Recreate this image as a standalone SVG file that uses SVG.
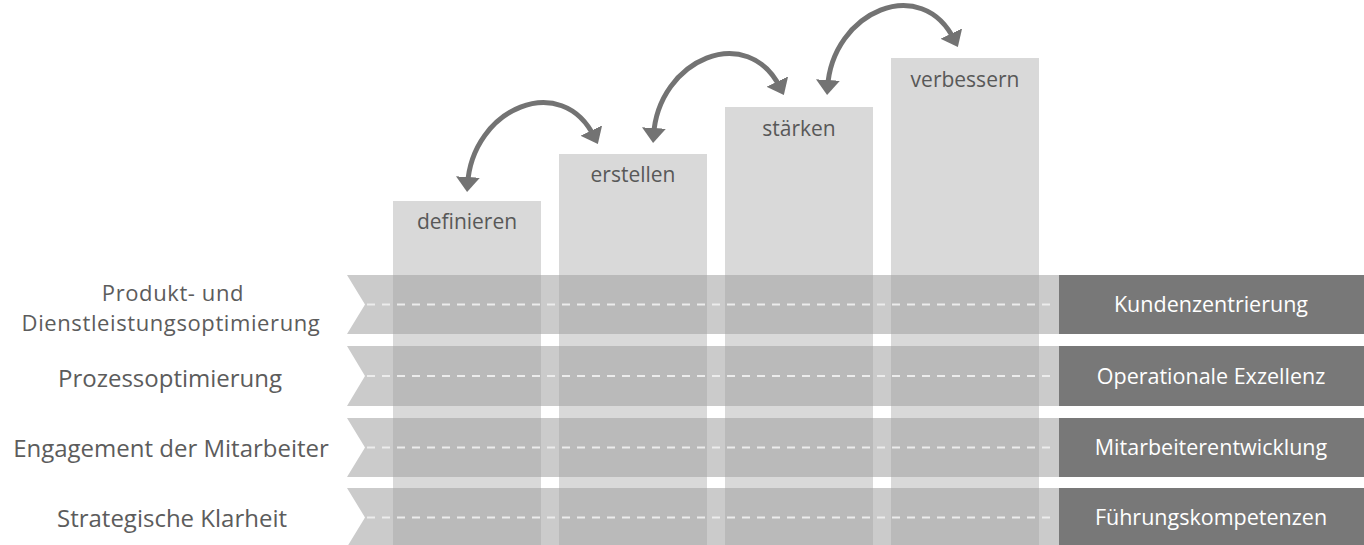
<svg xmlns="http://www.w3.org/2000/svg" width="1364" height="545" viewBox="0 0 1364 545">
<style>
.col{fill:#d9d9d9}
.colt{font-family:"Open Sans","Noto Sans",sans-serif;font-size:21px;fill:#585858;text-anchor:middle}
.band{fill:#a0a0a0;fill-opacity:0.55}
.dash{stroke:#ececec;stroke-width:2;stroke-dasharray:8 7;fill:none}
.lbl{font-family:"Open Sans","Noto Sans",sans-serif;font-size:24px;fill:#5c5c5c;text-anchor:middle}
.lbl2{font-family:"Open Sans","Noto Sans",sans-serif;font-size:22px;letter-spacing:0.6px;fill:#5c5c5c;text-anchor:middle}
.box{fill:#787878}
.boxt{font-family:"Open Sans","Noto Sans",sans-serif;font-size:21.5px;fill:#ffffff;text-anchor:middle}
.arr{fill:none;stroke:#737373;stroke-width:5}
</style>
<defs>
<marker id="ah" markerUnits="userSpaceOnUse" markerWidth="26" markerHeight="26" viewBox="0 0 26 26" refX="8" refY="12" orient="auto-start-reverse">
<path d="M0,0 L15,12 L0,24 z" fill="#737373"/>
</marker>
</defs>
<rect width="1364" height="545" fill="#ffffff"/>

<g id="step-definieren"><rect class="col" x="393" y="201" width="148" height="344"/><text class="colt" x="467" y="229">definieren</text></g>
<g id="step-erstellen"><rect class="col" x="559" y="154" width="148" height="391"/><text class="colt" x="633" y="182">erstellen</text></g>
<g id="step-staerken"><rect class="col" x="725" y="107" width="148" height="438"/><text class="colt" x="799" y="136">stärken</text></g>
<g id="step-verbessern"><rect class="col" x="891" y="58" width="148" height="487"/><text class="colt" x="965" y="87">verbessern</text></g>

<g id="row-kundenzentrierung">
<polygon class="band" points="347,275 1059,275 1059,334 347,334 365,304.5"/>
<line class="dash" x1="367" y1="304.5" x2="1055" y2="304.5"/>
<text class="lbl2" x="173" y="301">Produkt- und</text>
<text class="lbl2" x="171" y="331">Dienstleistungsoptimierung</text>
<rect class="box" x="1059" y="275" width="305" height="59"/>
<text class="boxt" x="1211" y="312">Kundenzentrierung</text>
</g>
<g id="row-operationale-exzellenz">
<polygon class="band" points="347,346 1059,346 1059,406 347,406 365,376"/>
<line class="dash" x1="367" y1="376" x2="1055" y2="376"/>
<text class="lbl" x="170" y="387">Prozessoptimierung</text>
<rect class="box" x="1059" y="346" width="305" height="60"/>
<text class="boxt" x="1211" y="384">Operationale Exzellenz</text>
</g>
<g id="row-mitarbeiterentwicklung">
<polygon class="band" points="347,418 1059,418 1059,477 347,477 365,447.5"/>
<line class="dash" x1="367" y1="447.5" x2="1055" y2="447.5"/>
<text class="lbl" x="171" y="457">Engagement der Mitarbeiter</text>
<rect class="box" x="1059" y="418" width="305" height="59"/>
<text class="boxt" x="1211" y="455">Mitarbeiterentwicklung</text>
</g>
<g id="row-fuehrungskompetenzen">
<polygon class="band" points="347,488 1059,488 1059,547 347,547 365,517.5"/>
<line class="dash" x1="367" y1="517.5" x2="1055" y2="517.5"/>
<text class="lbl" x="172" y="527">Strategische Klarheit</text>
<rect class="box" x="1059" y="488" width="305" height="59"/>
<text class="boxt" x="1211" y="525">Führungskompetenzen</text>
</g>

<g id="connectors">
<path class="arr" marker-start="url(#ah)" marker-end="url(#ah)" d="M467.5,185 C472,108 562,70 594.8,137.8"/>
<path class="arr" marker-start="url(#ah)" marker-end="url(#ah)" d="M653.5,136 C658,59 748,21 780.8,88.8"/>
<path class="arr" marker-start="url(#ah)" marker-end="url(#ah)" d="M827.5,88 C832,11 922,-27 954.8,40.8"/>
</g>
</svg>
